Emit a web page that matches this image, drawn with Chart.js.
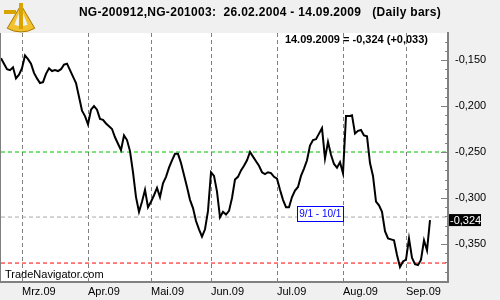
<!DOCTYPE html>
<html>
<head>
<meta charset="utf-8">
<script src="https://cdn.jsdelivr.net/npm/chart.js@4.4.1/dist/chart.umd.min.js"></script>
<style>
  html, body { margin: 0; padding: 0; background: #f0f0f0; }
  #wrap { width: 500px; height: 300px; position: relative; }
</style>
</head>
<body>
<div id="wrap"><canvas id="chart"></canvas></div>
<script>
// NG Dec09 - Mar10 spread, one close per trading day (19.02.2009 .. 14.09.2009)
const spreadValues = [
  -0.148, -0.154, -0.160, -0.161, -0.158, -0.170, -0.166, -0.159, -0.145, -0.149,
  -0.154, -0.164, -0.170, -0.175, -0.174, -0.165, -0.159, -0.162, -0.161, -0.162,
  -0.160, -0.155, -0.154, -0.161, -0.168, -0.175, -0.190, -0.205, -0.211, -0.220,
  -0.204, -0.200, -0.204, -0.214, -0.215, -0.219, -0.222, -0.225, -0.234, -0.241,
  -0.248, -0.232, -0.237, -0.249, -0.272, -0.299, -0.315, -0.304, -0.291, -0.310,
  -0.304, -0.297, -0.289, -0.299, -0.284, -0.277, -0.267, -0.259, -0.252, -0.252,
  -0.262, -0.275, -0.288, -0.302, -0.311, -0.325, -0.334, -0.342, -0.334, -0.314,
  -0.272, -0.276, -0.293, -0.321, -0.315, -0.318, -0.314, -0.300, -0.280, -0.277,
  -0.270, -0.265, -0.259, -0.250, -0.255, -0.260, -0.265, -0.272, -0.274, -0.272,
  -0.273, -0.277, -0.279, -0.291, -0.302, -0.310, -0.310, -0.299, -0.292, -0.288,
  -0.276, -0.268, -0.259, -0.243, -0.237, -0.236, -0.230, -0.224, -0.257, -0.239,
  -0.253, -0.263, -0.267, -0.261, -0.273, -0.211, -0.211, -0.210, -0.230, -0.227,
  -0.226, -0.232, -0.233, -0.262, -0.276, -0.304, -0.308, -0.315, -0.336, -0.344,
  -0.345, -0.346, -0.362, -0.375, -0.369, -0.367, -0.344, -0.365, -0.372, -0.373,
  -0.367, -0.346, -0.357, -0.324
];

// first trading day of each month (index into spreadValues)
const monthStarts = [7, 29, 50, 70, 92, 114, 135];
const monthLabels = ['Mrz.09', 'Apr.09', 'Mai.09', 'Jun.09', 'Jul.09', 'Aug.09', 'Sep.09'];

// horizontal marker lines
const levelValues = [-0.25, -0.3707, -0.3207];
const levelColors = ['#00c000', '#ff0000', '#a8a8a8'];

const titleText = 'NG-200912,NG-201003:  26.02.2004 - 14.09.2009   (Daily bars)';
const lastText = '14.09.2009 = -0,324 (+0,033)';
const seasonText = '9/1 - 10/1';
const footerText = 'TradeNavigator.com';

const FONT = '"Liberation Sans", Arial, sans-serif';

function fmt(v) {
    return v.toFixed(3).replace('.', ',');
}

const datasets = [{
    data: spreadValues.map((v, i) => ({ x: i, y: v })),
    borderColor: '#000000',
    borderWidth: 2,
    pointRadius: 0,
    tension: 0,
    order: 0
}];
levelValues.forEach((lv, k) => {
    datasets.push({
        data: [{ x: 0, y: lv }, { x: 149, y: lv }],
        borderColor: levelColors[k],
        borderWidth: 1,
        borderDash: [4, 3],
        pointRadius: 0,
        order: 1
    });
});

const decor = {
    id: 'decor',
    beforeDraw(chart) {
        const { ctx, chartArea: a } = chart;
        ctx.save();
        ctx.fillStyle = '#f0f0f0';
        ctx.fillRect(0, 0, chart.width, chart.height);
        ctx.fillStyle = '#ffffff';
        ctx.fillRect(a.left, a.top, a.right - a.left, a.bottom - a.top);
        ctx.restore();
    },
    afterDraw(chart) {
        const { ctx, chartArea: a } = chart;
        const xs = chart.scales.x, ys = chart.scales.y;
        ctx.save();

        // left frame line
        ctx.strokeStyle = '#808080';
        ctx.lineWidth = 2;
        ctx.beginPath();
        ctx.moveTo(0, a.top);
        ctx.lineTo(0, a.bottom);
        ctx.stroke();

        // tick marks of the price axis, drawn inside the plot
        ctx.lineWidth = 1;
        ys.ticks.forEach(t => {
            const y = Math.round(ys.getPixelForValue(t.value)) + 0.5;
            const len = Math.round(t.value * 100) % 5 === 0 ? 7 : 3;
            ctx.beginPath();
            ctx.moveTo(a.right - len, y);
            ctx.lineTo(a.right, y);
            ctx.stroke();
        });

        // logo (sextant)
        ctx.fillStyle = '#f2c12e';
        ctx.strokeStyle = '#a87a00';
        ctx.beginPath();
        ctx.moveTo(21, 5);
        ctx.arc(21, 5, 27, Math.PI * 0.33, Math.PI * 0.67);
        ctx.closePath();
        ctx.fill();
        ctx.stroke();
        ctx.fillStyle = '#f0f0f0';
        ctx.beginPath();
        ctx.moveTo(21, 8);
        ctx.arc(21, 8, 18, Math.PI * 0.38, Math.PI * 0.62);
        ctx.closePath();
        ctx.fill();
        ctx.fillStyle = '#d9a300';
        ctx.fillRect(4, 10, 12, 4);
        ctx.fillRect(19, 3, 4, 26);

        // title
        ctx.fillStyle = '#000000';
        ctx.font = 'bold 12px ' + FONT;
        ctx.letterSpacing = '0.3px';
        ctx.textAlign = 'center';
        ctx.textBaseline = 'middle';
        ctx.fillText(titleText, 260, 13);
        ctx.letterSpacing = '0px';

        // last value text
        ctx.font = 'bold 11px ' + FONT;
        ctx.textAlign = 'right';
        ctx.fillText(lastText, 428, 40);

        // footer
        ctx.font = '11px ' + FONT;
        ctx.textAlign = 'left';
        ctx.fillText(footerText, 5, 275);

        // season box
        const bx = xs.getPixelForValue(98.6), by = ys.getPixelForValue(-0.3092);
        ctx.fillStyle = '#ffffff';
        ctx.fillRect(bx, by, 46, 15);
        ctx.strokeStyle = '#0000ff';
        ctx.lineWidth = 1;
        ctx.strokeRect(Math.round(bx) + 0.5, Math.round(by) + 0.5, 46, 15);
        ctx.fillStyle = '#0000ff';
        ctx.font = '10px ' + FONT;
        ctx.textAlign = 'center';
        ctx.fillText(seasonText, bx + 23.5, by + 8);

        // last value marker on the axis
        const last = spreadValues[spreadValues.length - 1];
        const ly = ys.getPixelForValue(last);
        ctx.fillStyle = '#000000';
        ctx.fillRect(a.right + 1, ly - 6, 32, 12);
        ctx.fillStyle = '#ffffff';
        ctx.font = '11px ' + FONT;
        ctx.textAlign = 'left';
        ctx.fillText(fmt(last), a.right + 2, ly + 0.5);

        ctx.restore();
    }
};

new Chart(document.getElementById('chart'), {
    type: 'line',
    data: { datasets: datasets },
    plugins: [decor],
    options: {
        responsive: true,
        maintainAspectRatio: false,
        animation: false,
        layout: { padding: { left: 1, top: 33, right: 0, bottom: 0 } },
        plugins: {
            legend: { display: false },
            tooltip: { enabled: false },
            title: { display: false }
        },
        scales: {
            x: {
                type: 'linear',
                min: 0,
                max: 149,
                afterBuildTicks: scale => {
                    scale.ticks = monthStarts.map(v => ({ value: v }));
                },
                afterFit: scale => { scale.height = 18; },
                grid: { color: '#808080', lineWidth: 1, drawTicks: false },
                border: { color: '#808080', width: 2, dash: [4, 3] },
                ticks: {
                    autoSkip: false,
                    maxRotation: 0,
                    align: 'start',
                    padding: 3,
                    color: '#000000',
                    font: { family: FONT, size: 11 },
                    callback: v => monthLabels[monthStarts.indexOf(v)]
                }
            },
            y: {
                position: 'right',
                min: -0.3913,
                max: -0.12065,
                afterBuildTicks: scale => {
                    const t = [];
                    for (let k = -39; k <= -13; k++) t.push({ value: k / 100 });
                    scale.ticks = t;
                },
                afterFit: scale => { scale.width = 52; },
                grid: { display: false, drawTicks: false },
                border: { color: '#808080', width: 2 },
                ticks: {
                    autoSkip: false,
                    padding: 7,
                    color: '#000000',
                    font: { family: FONT, size: 11 },
                    callback: v => Math.round(v * 100) % 5 === 0 ? fmt(v) : ''
                }
            }
        }
    }
});
</script>
</body>
</html>
